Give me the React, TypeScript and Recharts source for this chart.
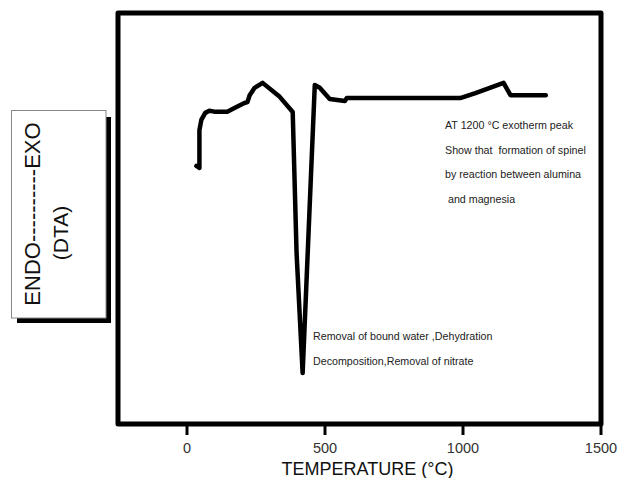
import React from 'react';
import { LineChart, Line, XAxis, YAxis, ReferenceArea, Label } from 'recharts';

// DTA trace read as (temperature °C, signal in arbitrary units, 0-100 scale)
const temperature = [34, 45, 45, 52, 66, 81, 99, 146, 172, 208, 219, 227, 245, 274, 336, 383, 397, 419, 463, 481, 517, 572, 579, 990, 1045, 1147, 1172, 1300];
const dtaSignal = [62.8, 62.3, 71.5, 74.0, 75.7, 76.2, 76.0, 76.0, 76.9, 78.1, 78.3, 80.0, 81.8, 83.0, 79.6, 75.9, 41.6, 12.4, 82.5, 81.8, 79.1, 78.6, 79.3, 79.3, 80.5, 83.0, 80.0, 80.0];

const xTicks = [0, 500, 1000, 1500];

const exoNote = [
  'AT 1200 °C exotherm peak',
  'Show that  formation of spinel',
  'by reaction between alumina',
  ' and magnesia',
];
const endoNote = [
  'Removal of bound water ,Dehydration',
  'Decomposition,Removal of nitrate',
];

const data = temperature.map((t, i) => ({ t, dta: dtaSignal[i] }));

const FONT = '"Liberation Sans", Arial, sans-serif';

// boxed y-axis caption with a drop shadow, sits left of the plot frame
const YLabelBox = () => (
  <svg width={115} height={330} style={{ position: 'absolute', left: 0, top: 0, zIndex: 5 }}>
    <path d="M106 117 H111 V323 H17 V318 H106 Z" fill="#000" />
    <rect x={11.5} y={110.5} width={94.5} height={207.5} fill="#fff" stroke="#888" strokeWidth={1} />
    <text
      x={40}
      y={214}
      transform="rotate(-90 40 214)"
      textAnchor="middle"
      fontSize={22}
      fontFamily={FONT}
      fill="#111"
    >
      ENDO----------EXO
    </text>
    <text
      x={68}
      y={233}
      transform="rotate(-90 68 233)"
      textAnchor="middle"
      fontSize={21}
      fontFamily={FONT}
      fill="#111"
    >
      (DTA)
    </text>
  </svg>
);

const Notes = () => (
  <g fontFamily={FONT} fontSize={10.7} fill="#222">
    {exoNote.map((line, i) => (
      <text key={line} x={445} y={129 + i * 24.7} style={{ whiteSpace: 'pre' }}>
        {line}
      </text>
    ))}
    {endoNote.map((line, i) => (
      <text key={line} x={313} y={340 + i * 25}>
        {line}
      </text>
    ))}
  </g>
);

export default function App() {
  return (
    <div style={{ position: 'absolute', left: 0, top: 0, width: 618, height: 478, background: '#fff' }}>
      <LineChart width={618} height={478} data={data} margin={{ top: 13, right: 17, left: 118, bottom: 0 }}>
        <XAxis
          dataKey="t"
          type="number"
          domain={[-250, 1500]}
          ticks={xTicks}
          axisLine={false}
          tickSize={11}
          tickMargin={8}
          tickLine={{ stroke: '#000', strokeWidth: 3 }}
          tick={{ fontSize: 14.5, fill: '#333', fontFamily: FONT }}
          height={54}
        >
          <Label
            value="TEMPERATURE (°C)"
            position="insideBottom"
            offset={3}
            dx={8}
            style={{ fontSize: 18, fill: '#111', fontFamily: FONT }}
          />
        </XAxis>
        <YAxis hide domain={[0, 100]} />
        <ReferenceArea
          x1={-250}
          x2={1500}
          y1={0}
          y2={100}
          fill="none"
          stroke="#000"
          strokeWidth={5}
          strokeLinejoin="round"
        />
        <Line
          type="linear"
          dataKey="dta"
          stroke="#000"
          strokeWidth={4.5}
          strokeLinejoin="round"
          strokeLinecap="round"
          dot={false}
          isAnimationActive={false}
        />
        <Notes />
      </LineChart>
      <YLabelBox />
    </div>
  );
}
